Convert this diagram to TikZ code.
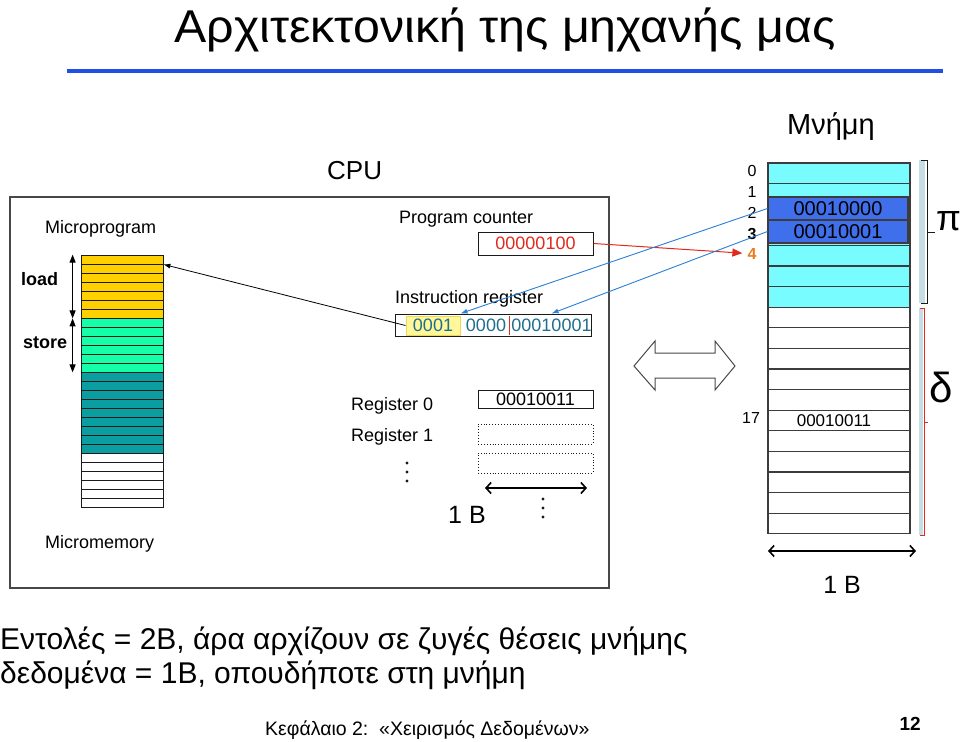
\documentclass[tikz,border=0pt]{standalone}
\usepackage{fontspec}
\setmainfont{Liberation Sans}
\usetikzlibrary{arrows.meta}
\definecolor{ink}{HTML}{1A1A1A}
\definecolor{rule}{HTML}{1F4FE4}
\definecolor{mmYel}{HTML}{FFD000}
\definecolor{mmMint}{HTML}{14FFA8}
\definecolor{mmTeal}{HTML}{0B9EA0}
\definecolor{memCyan}{HTML}{78FCFF}
\definecolor{memBlue}{HTML}{3F6FEA}
\definecolor{pcRed}{HTML}{E02A1E}
\definecolor{adrOrange}{HTML}{EE7A1E}
\definecolor{irInk}{HTML}{1F6E8E}
\definecolor{irYel}{HTML}{FFF799}
\definecolor{irYelEdge}{HTML}{E9D85A}
\definecolor{fetch}{HTML}{2A7FD6}
\definecolor{barGray}{HTML}{C7DDE4}
\newcommand{\px}[1]{\fontsize{#1}{#1}\selectfont}
\tikzset{>=Latex,
  txt/.style={inner sep=0pt,anchor=base west},
  reg/.style={draw=ink,line width=1pt,minimum width=115pt,inner sep=0pt},
  slot/.style={draw=ink,dotted,line width=0.9pt,minimum width=115pt,minimum height=20pt},
  mmrow/.style={draw=ink,line width=0.8pt,minimum width=82pt,minimum height=9pt,inner sep=0pt},
  memrow/.style={draw=ink!85,line width=1.1pt,minimum width=142pt,minimum height=20.6pt,inner sep=0pt},
  adr/.style={inner sep=0pt,anchor=base,font=\px{16}},
  irbits/.style={inner sep=0pt,text=irInk,font=\px{18}},
  ptr/.style={->,line width=0.8pt,>={Latex[length=7pt,width=5pt]}},
  fetchptr/.style={->,draw=fetch,line width=0.9pt,>={Latex[length=7pt,width=5pt]}},
  span/.style={{Straight Barb[length=5pt,width=11pt]}-{Straight Barb[length=5pt,width=11pt]},line width=1.6pt}}
\begin{document}
\begin{tikzpicture}[x=1pt,y=-1pt]
  \useasboundingbox (0,0) rectangle (960,741);
  % heading
  \node[inner sep=0pt,anchor=base] (title) at (505,43) {\px{46}\scalebox{1.05}[1]{Αρχιτεκτονική της μηχανής μας}};
  \draw[rule,line width=4pt] (67,71) -- (943,71);
  % CPU
  \draw[ink!80,line width=1.2pt] (10,197) rectangle (609,588);
  \node[txt,font=\px{26}] (cpu) at (327,179) {CPU};
  % micromemory
  \node[txt,font=\px{18}] (mprog) at (45,233) {Microprogram};
  \foreach \i in {0,...,6} \node[mmrow,fill=mmYel] (mm\i) at (122,{259.5+9*\i}) {};
  \foreach \i in {7,...,12} \node[mmrow,fill=mmMint] (mm\i) at (122,{259.5+9*\i}) {};
  \foreach \i in {13,...,21} \node[mmrow,fill=mmTeal] (mm\i) at (122,{259.5+9*\i}) {};
  \foreach \i in {22,...,27} \node[mmrow,fill=white] (mm\i) at (122,{259.5+9*\i}) {};
  \node[txt,font=\bfseries\px{18}] (ld) at (21,285) {load};
  \node[txt,font=\bfseries\px{18}] (st) at (23,348) {store};
  \draw[{Triangle[length=8pt,width=6pt]}-{Triangle[length=8pt,width=6pt]},line width=1pt]
    ([xshift=-8pt]mm0.north west) -- ([xshift=-8pt]mm6.south west);
  \draw[{Triangle[length=8pt,width=6pt]}-{Triangle[length=8pt,width=6pt]},line width=1pt]
    ([xshift=-8pt]mm6.south west) -- ([xshift=-8pt]mm12.south west);
  \node[txt,font=\px{18}] (mmem) at (45,548) {Micromemory};
  % program counter and instruction register
  \node[txt,font=\px{18}] (pclab) at (399,223) {Program counter};
  \node[reg,minimum height=23pt,text=pcRed,font=\px{18}] (pc) at (535.5,243.5) {00000100};
  \node[txt,font=\px{18}] (irlab) at (395,303) {Instruction register};
  \node[reg,minimum width=196pt,minimum height=22pt] (ir) at (493,325) {};
  \node[irbits,fill=irYel,draw=irYelEdge,line width=1pt,minimum width=54pt,minimum height=19pt] (ir1) at (433,325.5) {0001};
  \node[irbits] (ir2) at (486,325.5) {0000};
  \node[irbits] (ir3) at (551.5,325.5) {00010001};
  \draw[pcRed,line width=0.8pt] (509,316) -- (509,335);
  \draw[ptr] (ir1.west) -- (mm0.south east);
  % registers
  \node[txt,font=\px{18}] (r0lab) at (351,410) {Register 0};
  \node[txt,font=\px{18}] (r1lab) at (351,441) {Register 1};
  \node[reg,minimum height=18pt,font=\px{18}] (r0) at (535.5,399) {00010011};
  \node[slot] (r1) at (535.5,434) {};
  \node[slot] (r2) at (535.5,463) {};
  \foreach \y in {463,472,481} \fill[ink] (407,\y) circle (1.7);
  \foreach \y in {499,508,517} \fill[ink] (543,\y) circle (1.7);
  \coordinate (bL) at (485,488);
  \coordinate (bR) at (587,488);
  \draw[span] (bL) -- (bR);
  \node[txt,font=\px{25}] (oneB) at (448,523) {1 B};
  % bus
  \draw[ink!80,line width=1pt] (634,366) -- (655,341) -- (655,353) -- (715,353) -- (715,341) -- (735,366)
    -- (715,390) -- (715,378) -- (655,378) -- (655,390) -- cycle;
  % memory
  \node[txt,font=\px{29}] (memlab) at (787,135) {Μνήμη};
  \foreach \i in {0,...,6} \node[memrow,fill=memCyan] (m\i) at (839,{173.3+20.6*\i}) {};
  \foreach \i in {7,...,17} \node[memrow,fill=white] (m\i) at (839,{173.3+20.6*\i}) {};
  \node[memrow,fill=memBlue,minimum width=140pt,minimum height=23pt,font=\px{20}] (hb2) at (838,208.5) {00010000};
  \node[memrow,fill=memBlue,minimum width=140pt,minimum height=23pt,font=\px{20}] (hb3) at (838,231.5) {00010001};
  \node[inner sep=0pt,font=\px{17}] (d17) at ([xshift=-5pt]m12.center) {00010011};
  \foreach \i/\y in {0/176,1/197,2/218} \node[adr] (a\i) at (752,\y) {\i};
  \node[adr,font=\bfseries\px{16}] (a3) at (752,239) {3};
  \node[adr,font=\bfseries\px{16},text=adrOrange] (a4) at (752,259) {4};
  \node[adr] (a17) at (751,423) {17};
  \draw[->,pcRed,line width=1pt,>={Triangle[length=10pt,width=8pt]},shorten >=5pt] (pc.east) -- (a4.west);
  \draw[fetchptr] (hb2.west) -- (ir1.north east |- ir.north);
  \draw[fetchptr] (hb3.west) -- (ir3.north |- ir.north);
  % segments
  \fill[barGray] (919,160) rectangle (925,303);
  \draw[ink,line width=0.8pt] (921,160) -- (927,160) -- (927,303) -- (921,303);
  \draw[ink,line width=0.8pt] (927,232) -- (935,232);
  \node[txt,font=\px{36}] (pi) at (936,230) {π};
  \fill[barGray] (919,308) rectangle (923,535);
  \draw[pcRed,line width=0.8pt] (920,308) -- (924,308) -- (924,535) -- (920,535);
  \draw[pcRed,line width=0.8pt] (924,422) -- (928,422);
  \node[txt,font=\px{42}] (delta) at (929,402) {δ};
  \coordinate (mL) at (768,551);
  \coordinate (mR) at (916,551);
  \draw[span] (mL) -- (mR);
  \node[inner sep=0pt,anchor=base,font=\px{25}] (memB) at (842,593) {1 B};
  % notes
  \node[txt,font=\px{30}] (note1) at (0,649) {Εντολές = 2B, άρα αρχίζουν σε ζυγές θέσεις μνήμης};
  \node[txt,font=\px{30}] (note2) at (0,683) {δεδομένα = 1B, οπουδήποτε στη μνήμη};
  \node[txt,font=\px{19.5}] (foot) at (265,735) {Κεφάλαιο 2:~~«Χειρισμός Δεδομένων»};
  \node[inner sep=0pt,anchor=base east,font=\bfseries\px{19}] (pg) at (921,730) {12};
\end{tikzpicture}
\end{document}
